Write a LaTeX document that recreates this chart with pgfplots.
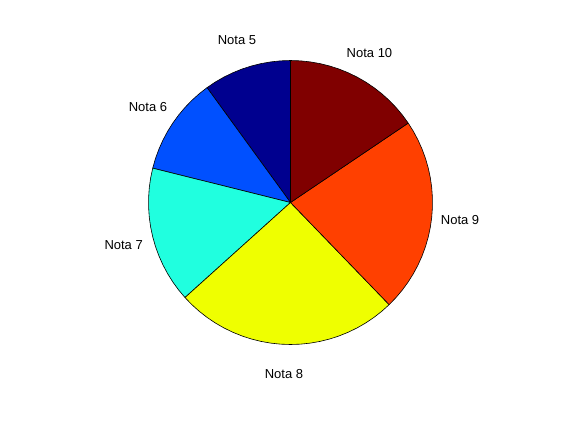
\documentclass[border=0pt]{standalone}
\usepackage{pgfplots}
\pgfplotsset{compat=1.18}
\usepackage{fontspec}
\setmainfont{Liberation Sans}

% MATLAB jet colours for 6 slices
\definecolor{jet1}{RGB}{0, 0, 143}
\definecolor{jet2}{RGB}{0, 80, 255}
\definecolor{jet3}{RGB}{32, 255, 223}
\definecolor{jet4}{RGB}{239, 255, 0}
\definecolor{jet5}{RGB}{255, 64, 0}
\definecolor{jet6}{RGB}{128, 0, 0}

\begin{document}
\begin{tikzpicture}
  \begin{axis}[
    x=142bp, y=142bp,
    xmin=-2.0458, xmax=1.9049,
    ymin=-1.5317, ymax=1.4261,
    hide axis, clip=false,
    data cs=polar,
    every axis plot/.append style={draw=black, line width=0.6bp, line join=round},
  ]
    \path (rel axis cs:0,0) rectangle (rel axis cs:1,1);

    % counts 9, 10, 14, 23, 20, 14 (of 90) -> 36, 40, 56, 92, 80, 56 degrees,
    % counter-clockwise from the top; arcs sampled every 4 degrees
    % Nota 5: 90 -> 126
    \addplot[fill=jet1] coordinates {
      (0,0) (90,1) (94,1) (98,1) (102,1) (106,1) (110,1) (114,1) (118,1) (122,1) (126,1) (0,0)
    };
    % Nota 6: 126 -> 166
    \addplot[fill=jet2] coordinates {
      (0,0) (126,1) (130,1) (134,1) (138,1) (142,1) (146,1) (150,1) (154,1) (158,1) (162,1) (166,1) (0,0)
    };
    % Nota 7: 166 -> 222
    \addplot[fill=jet3] coordinates {
      (0,0) (166,1) (170,1) (174,1) (178,1) (182,1) (186,1) (190,1) (194,1) (198,1) (202,1)
      (206,1) (210,1) (214,1) (218,1) (222,1) (0,0)
    };
    % Nota 8: 222 -> 314
    \addplot[fill=jet4] coordinates {
      (0,0) (222,1) (226,1) (230,1) (234,1) (238,1) (242,1) (246,1) (250,1) (254,1) (258,1)
      (262,1) (266,1) (270,1) (274,1) (278,1) (282,1) (286,1) (290,1) (294,1) (298,1)
      (302,1) (306,1) (310,1) (314,1) (0,0)
    };
    % Nota 9: 314 -> 394
    \addplot[fill=jet5] coordinates {
      (0,0) (314,1) (318,1) (322,1) (326,1) (330,1) (334,1) (338,1) (342,1) (346,1) (350,1)
      (354,1) (358,1) (362,1) (366,1) (370,1) (374,1) (378,1) (382,1) (386,1) (390,1) (394,1) (0,0)
    };
    % Nota 10: 394 -> 450
    \addplot[fill=jet6] coordinates {
      (0,0) (394,1) (398,1) (402,1) (406,1) (410,1) (414,1) (418,1) (422,1) (426,1) (430,1)
      (434,1) (438,1) (442,1) (446,1) (450,1) (0,0)
    };

    \begin{scope}[every node/.style={inner sep=0pt, font=\fontsize{13bp}{15bp}\selectfont}]
      \node at (axis cs:-0.377, 1.142) {Nota 5};
      \node at (axis cs:-1.004, 0.670) {Nota 6};
      \node at (axis cs:-1.175,-0.297) {Nota 7};
      \node at (axis cs:-0.046,-1.206) {Nota 8};
      \node at (axis cs: 1.194,-0.125) {Nota 9};
      \node at (axis cs: 0.556, 1.051) {Nota 10};
    \end{scope}
  \end{axis}
\end{tikzpicture}
\end{document}
